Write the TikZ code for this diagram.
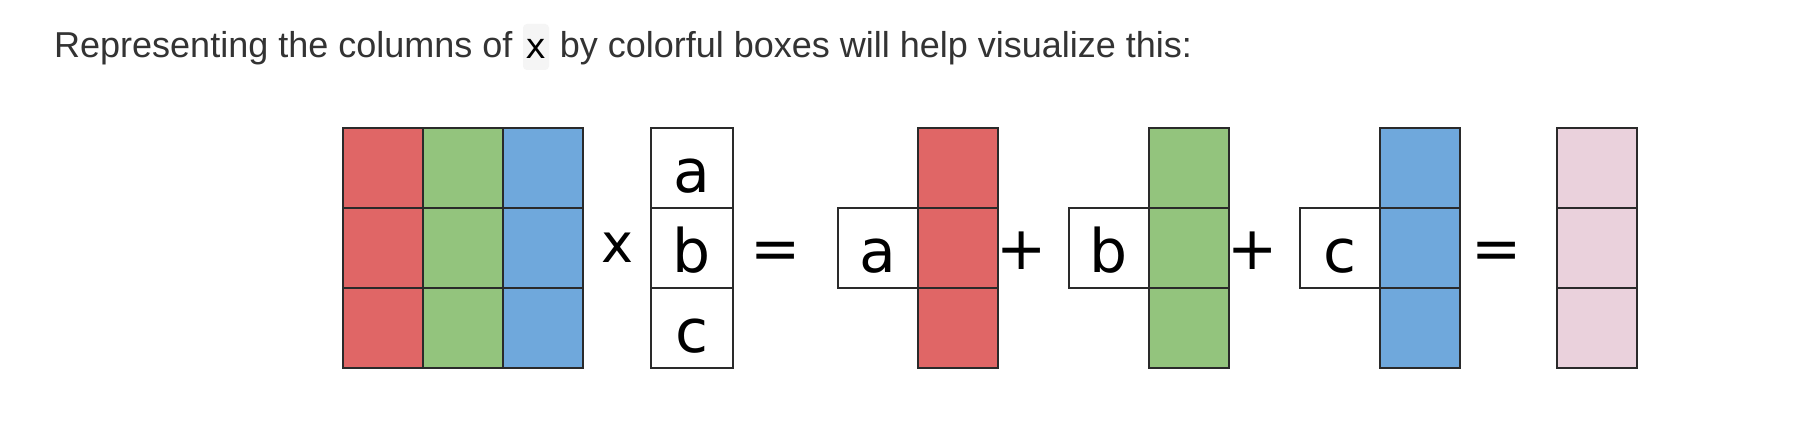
\documentclass[tikz,border=0pt]{standalone}
\usepackage{fontspec}
\setmainfont{Liberation Sans}
\newfontfamily\dvsans{DejaVu Sans}
\newfontfamily\dvmono{DejaVu Sans Mono}
\definecolor{txt}{HTML}{333333}
\definecolor{linec}{HTML}{2A2A2A}
\definecolor{cred}{HTML}{E06666}
\definecolor{cgreen}{HTML}{93C47D}
\definecolor{cblue}{HTML}{6FA8DC}
\definecolor{cpink}{HTML}{EAD1DC}
\definecolor{codebg}{HTML}{F5F5F5}
\tikzset{
  cell/.style={draw=linec, line width=2pt, minimum width=80pt, minimum height=80pt, inner sep=0pt, outer sep=0pt},
  letter/.style={inner sep=0pt, font=\dvsans\fontsize{60}{72}\selectfont, text=black},
  opsym/.style={inner sep=0pt, font=\dvsans\fontsize{60}{72}\selectfont, text=black},
  titletext/.style={inner sep=0pt, font=\fontsize{36}{43}\selectfont, text=txt},
}
\begin{document}
\begin{tikzpicture}[x=1pt,y=-1pt]
\useasboundingbox[fill=white] (0,0) rectangle (1799,425);

% title
\node[titletext, anchor=base west] (t1) at (54,58) {Representing the columns of};
\node[fill=codebg, rounded corners=4pt, minimum width=26pt, minimum height=46pt, inner sep=0pt] (cb) at (536,47) {};
\node[inner sep=0pt, anchor=base, font=\dvmono\fontsize{35}{42}\selectfont, text=black] (cx) at (536,58.5) {x};
\node[titletext, anchor=base west] (t2) at (559.6,58) {by colorful boxes will help visualize this:};

% left matrix
\foreach \r/\y in {1/168,2/248,3/328}{
  \node[cell, fill=cred]   (m\r1) at (383,\y) {};
  \node[cell, fill=cgreen] (m\r2) at (463,\y) {};
  \node[cell, fill=cblue]  (m\r3) at (542.5,\y) {};
}
\draw[linec, line width=2pt] (m11.north west) rectangle (m33.south east);

% times
\node[letter, anchor=base, font=\dvsans\fontsize{54}{60}\selectfont] (times) at (617,262) {x};

% vector
\node[cell, fill=white, minimum width=82pt] (v1) at (692,168) {};
\node[cell, fill=white, minimum width=82pt] (v2) at (692,248) {};
\node[cell, fill=white, minimum width=82pt] (v3) at (692,328) {};
\node[letter, anchor=base] (la) at ([yshift=-24pt]v1.center) {a};
\node[letter, anchor=base] (lb) at ([yshift=-24pt]v2.center) {b};
\node[letter, anchor=base] (lc) at ([yshift=-24pt]v3.center) {c};

% equals
\node[opsym, anchor=base] (eq1) at (776,269) {=};

% a * red column
\node[cell, fill=white] (ab) at (878,248) {};
\node[letter, anchor=base] (ta) at ([yshift=-24pt]ab.center) {a};
\node[cell, fill=cred] (r1) at (958,168) {};
\node[cell, fill=cred] (r2) at (958,248) {};
\node[cell, fill=cred] (r3) at (958,328) {};

\node[opsym, anchor=base] (p1) at (1022,269) {+};

% b * green column
\node[cell, fill=white] (bb) at (1109,248) {};
\node[letter, anchor=base] (tb) at ([yshift=-24pt]bb.center) {b};
\node[cell, fill=cgreen] (g1) at (1189,168) {};
\node[cell, fill=cgreen] (g2) at (1189,248) {};
\node[cell, fill=cgreen] (g3) at (1189,328) {};

\node[opsym, anchor=base] (p2) at (1253,269) {+};

% c * blue column
\node[cell, fill=white] (cbx) at (1339.5,248) {};
\node[letter, anchor=base] (tc) at ([yshift=-24pt]cbx.center) {c};
\node[cell, fill=cblue] (b1) at (1419.5,168) {};
\node[cell, fill=cblue] (b2) at (1419.5,248) {};
\node[cell, fill=cblue] (b3) at (1419.5,328) {};

\node[opsym, anchor=base] (eq2) at (1497,269) {=};

% result
\node[cell, fill=cpink] (k1) at (1596.5,168) {};
\node[cell, fill=cpink] (k2) at (1596.5,248) {};
\node[cell, fill=cpink] (k3) at (1596.5,328) {};
\end{tikzpicture}
\end{document}
